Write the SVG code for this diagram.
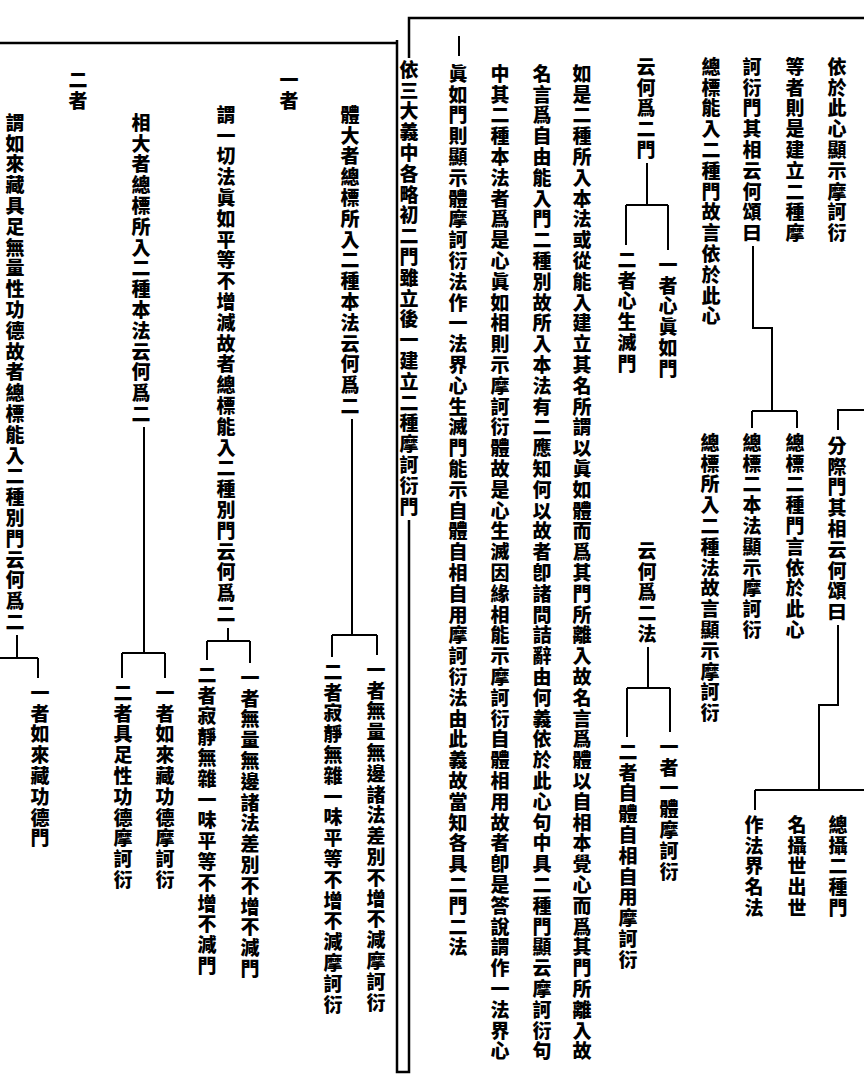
<svg xmlns="http://www.w3.org/2000/svg" width="864" height="1085" viewBox="0 0 864 1085">
<style>
.t { font-family: "Noto Sans CJK TC", "Noto Sans CJK SC", sans-serif; font-size: 19px; font-weight: 900; writing-mode: vertical-rl; letter-spacing: 1.8px; fill: #000; }
.c { fill: none; stroke: #000; stroke-width: 2; }
.b { fill: none; stroke: #000; stroke-width: 2.5; }
</style>
<rect width="864" height="1085" fill="#fff"/>
<g id="borders">
<path class="b" d="M0 43 H397 M397 40 V1072 H409 V520 M409 58 V18 H864"/>
<path class="c" d="M459 36 V56"/>
</g>
<g id="connectors">
<path class="c" d="M753 246 V328 H772 V411 M752 411 H797 M752 411 V428 M797 411 V428"/>
<path class="c" d="M864 410 H838 V430 M838 625 V705 H819 V790 M755 790 H864 M755 790 V810"/>
<path class="c" d="M647 163 V205 M626 205 H668 M668 205 V250 M626 205 V245"/>
<path class="c" d="M648 647 V688 M627 688 H670 M670 688 V732 M627 688 V737"/>
<path class="c" d="M352 419 V635 M332 635 H377 M377 635 V655 M332 635 V657"/>
<path class="c" d="M228 628 V641 M207 641 H250 M250 641 V663 M207 641 V660"/>
<path class="c" d="M144 427 V653 M122 653 H165 M165 653 V678 M122 653 V678"/>
<path class="c" d="M17 635 V658 M0 658 H38 M38 658 V678"/>
</g>
<g id="n-top"><text class="t" x="837" y="57">依於此心顯示摩訶衍</text><text class="t" x="795" y="57">等者則是建立二種摩</text><text class="t" x="752" y="57">訶衍門其相云何頌曰</text><text class="t" x="711" y="57">總標能入二種門故言依於此心</text></g>
<g id="n-fenji"><text class="t" x="837" y="436">分際門其相云何頌曰</text></g>
<g id="n-zongbiao"><text class="t" x="795" y="433">總標二種門言依於此心</text><text class="t" x="752" y="433">總標二本法顯示摩訶衍</text><text class="t" x="710" y="433">總標所入二種法故言顯示摩訶衍</text></g>
<g id="n-zongshe"><text class="t" x="838" y="815">總攝二種門</text><text class="t" x="797" y="815">名攝世出世</text><text class="t" x="754" y="815">作法界名法</text></g>
<g id="n-ermen"><text class="t" x="646" y="57">云何爲二門</text><text class="t" x="668" y="255">一者心眞如門</text><text class="t" x="627" y="250">二者心生滅門</text></g>
<g id="n-erfa"><text class="t" x="647" y="541">云何爲二法</text><text class="t" x="669" y="737">一者一體摩訶衍</text><text class="t" x="628" y="742">二者自體自相自用摩訶衍</text></g>
<g id="n-body"><text class="t" x="582" y="64">如是二種所入本法或從能入建立其名所謂以眞如體而爲其門所離入故名言爲體以自相本覺心而爲其門所離入故</text><text class="t" x="542" y="64">名言爲自由能入門二種別故所入本法有二應知何以故者卽諸問詰辭由何義依於此心句中具二種門顯云摩訶衍句</text><text class="t" x="500" y="64">中其二種本法者爲是心眞如相則示摩訶衍體故是心生滅因緣相能示摩訶衍自體相用故者卽是答說謂作一法界心</text><text class="t" x="458" y="64">眞如門則顯示體摩訶衍法作一法界心生滅門能示自體自相自用摩訶衍法由此義故當知各具二門二法</text></g>
<g id="n-yisan"><text class="t" x="409" y="60">依三大義中各略初二門雖立後一建立二種摩訶衍門</text></g>
<g id="n-tida"><text class="t" x="350" y="105">體大者總標所入二種本法云何爲二</text><text class="t" x="376" y="660">一者無量無邊諸法差別不增不減摩訶衍</text><text class="t" x="333" y="662">二者寂靜無雜一味平等不增不減摩訶衍</text></g>
<g id="n-yizhe"><text class="t" x="289" y="70">一者</text><text class="t" x="226" y="105">謂一切法眞如平等不增減故者總標能入二種別門云何爲二</text><text class="t" x="250" y="668">一者無量無邊諸法差別不增不減門</text><text class="t" x="207" y="665">二者寂靜無雜一味平等不增不減門</text></g>
<g id="n-xiangda"><text class="t" x="141" y="113">相大者總標所入二種本法云何爲二</text><text class="t" x="165" y="683">一者如來藏功德摩訶衍</text><text class="t" x="123" y="683">二者具足性功德摩訶衍</text></g>
<g id="n-erzhe"><text class="t" x="78" y="70">二者</text><text class="t" x="15" y="113">謂如來藏具足無量性功德故者總標能入二種別門云何爲二</text><text class="t" x="40" y="683">一者如來藏功德門</text></g>
</svg>
